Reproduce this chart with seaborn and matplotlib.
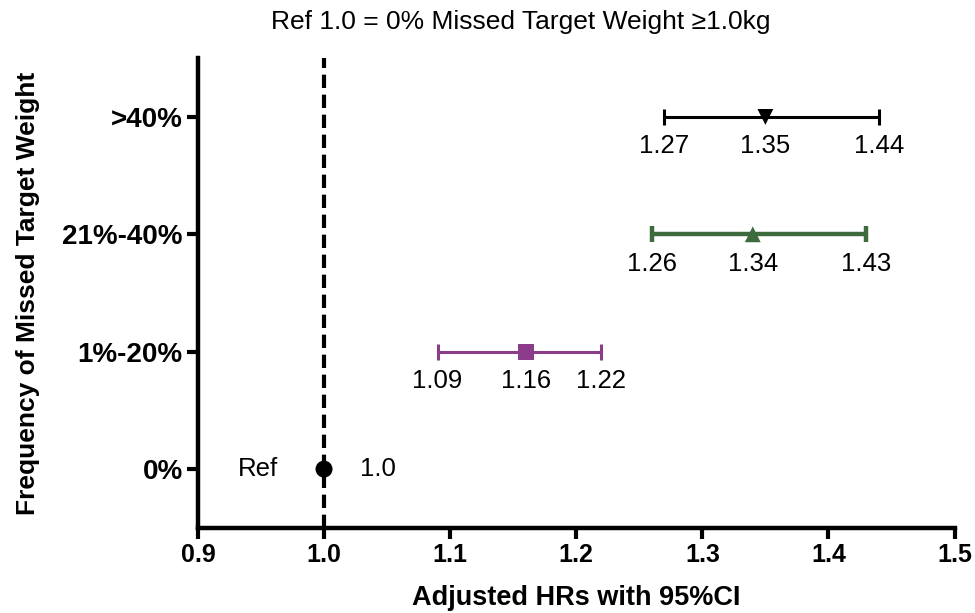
import matplotlib
matplotlib.use("Agg")
import matplotlib.pyplot as plt
import seaborn as sns
import pandas as pd

categories = ["0%", "1%-20%", "21%-40%", ">40%"]
hr = [1.00, 1.16, 1.34, 1.35]
ci_low = [1.00, 1.09, 1.26, 1.27]
ci_high = [1.00, 1.22, 1.43, 1.44]
hr_labels = ["1.0", "1.16", "1.34", "1.35"]
low_labels = ["", "1.09", "1.26", "1.27"]
high_labels = ["", "1.22", "1.43", "1.44"]
colors = ["#000000", "#8b3d8b", "#3d6b3d", "#000000"]
markers = ["o", "s", "^", "v"]
x_ticks = [0.9, 1.0, 1.1, 1.2, 1.3, 1.4, 1.5]

sns.set_style("ticks")
plt.rcParams["font.family"] = ["Liberation Sans", "DejaVu Sans"]
plt.rcParams["text.color"] = "black"
plt.rcParams["axes.labelcolor"] = "black"
plt.rcParams["xtick.color"] = "black"
plt.rcParams["ytick.color"] = "black"
plt.rcParams["axes.edgecolor"] = "black"

df = pd.DataFrame({"cat": categories, "hr": hr, "lo": ci_low, "hi": ci_high,
                   "pos": list(range(len(categories)))})

fig = plt.figure(figsize=(9.75, 6.13), dpi=100)
ax = fig.add_axes([0.203, 0.139, 0.776, 0.766])

# reference line
ax.axvline(1.0, color="black", lw=3, ls=(0, (3.2, 1.6)), zorder=1)

for i, row in df.iterrows():
    if i > 0:
        lw = 3.2 if i == 2 else 2.2
        ax.errorbar(row["hr"], row["pos"],
                    xerr=[[row["hr"] - row["lo"]], [row["hi"] - row["hr"]]],
                    fmt="none", ecolor=colors[i], elinewidth=lw,
                    capsize=6, capthick=lw, zorder=2)

sns.scatterplot(data=df, x="hr", y="pos", hue="cat", style="cat",
                palette=dict(zip(categories, colors)),
                markers=dict(zip(categories, markers)),
                s=[150, 130, 130, 130], edgecolor="none", legend=False, ax=ax, zorder=3)

off = 0.25
fs = 18.5
for i in range(len(categories)):
    if i == 0:
        ax.text(0.948, 0, "Ref", ha="center", va="center", fontsize=fs)
        ax.text(1.043, 0, hr_labels[0], ha="center", va="center", fontsize=fs)
    else:
        ax.text(ci_low[i], i - off, low_labels[i], ha="center", va="center", fontsize=fs)
        ax.text(hr[i], i - off, hr_labels[i], ha="center", va="center", fontsize=fs)
        ax.text(ci_high[i], i - off, high_labels[i], ha="center", va="center", fontsize=fs)

ax.set_xlim(0.9, 1.5)
ax.set_ylim(-0.5, 3.5)
ax.set_xticks(x_ticks)
ax.set_xticklabels([f"{t:.1f}" for t in x_ticks], fontsize=18, fontweight="bold")
ax.set_yticks(range(len(categories)))
ax.set_yticklabels(categories, fontsize=20, fontweight="bold")
ax.tick_params(axis="both", width=3, length=8, direction="out", pad=3)
for s in ["left", "bottom"]:
    ax.spines[s].set_linewidth(3.2)
for s in ["top", "right"]:
    ax.spines[s].set_visible(False)

ax.set_xlabel("Adjusted HRs with 95%CI", fontsize=19.5, fontweight="bold", labelpad=13)
ax.set_ylabel("Frequency of Missed Target Weight", fontsize=19, fontweight="bold", labelpad=16)
fig.text(0.534, 0.964, "Ref 1.0 = 0% Missed Target Weight \u22651.0kg",
         fontsize=19, ha="center", va="center")

fig.savefig("out.png", dpi=100)
